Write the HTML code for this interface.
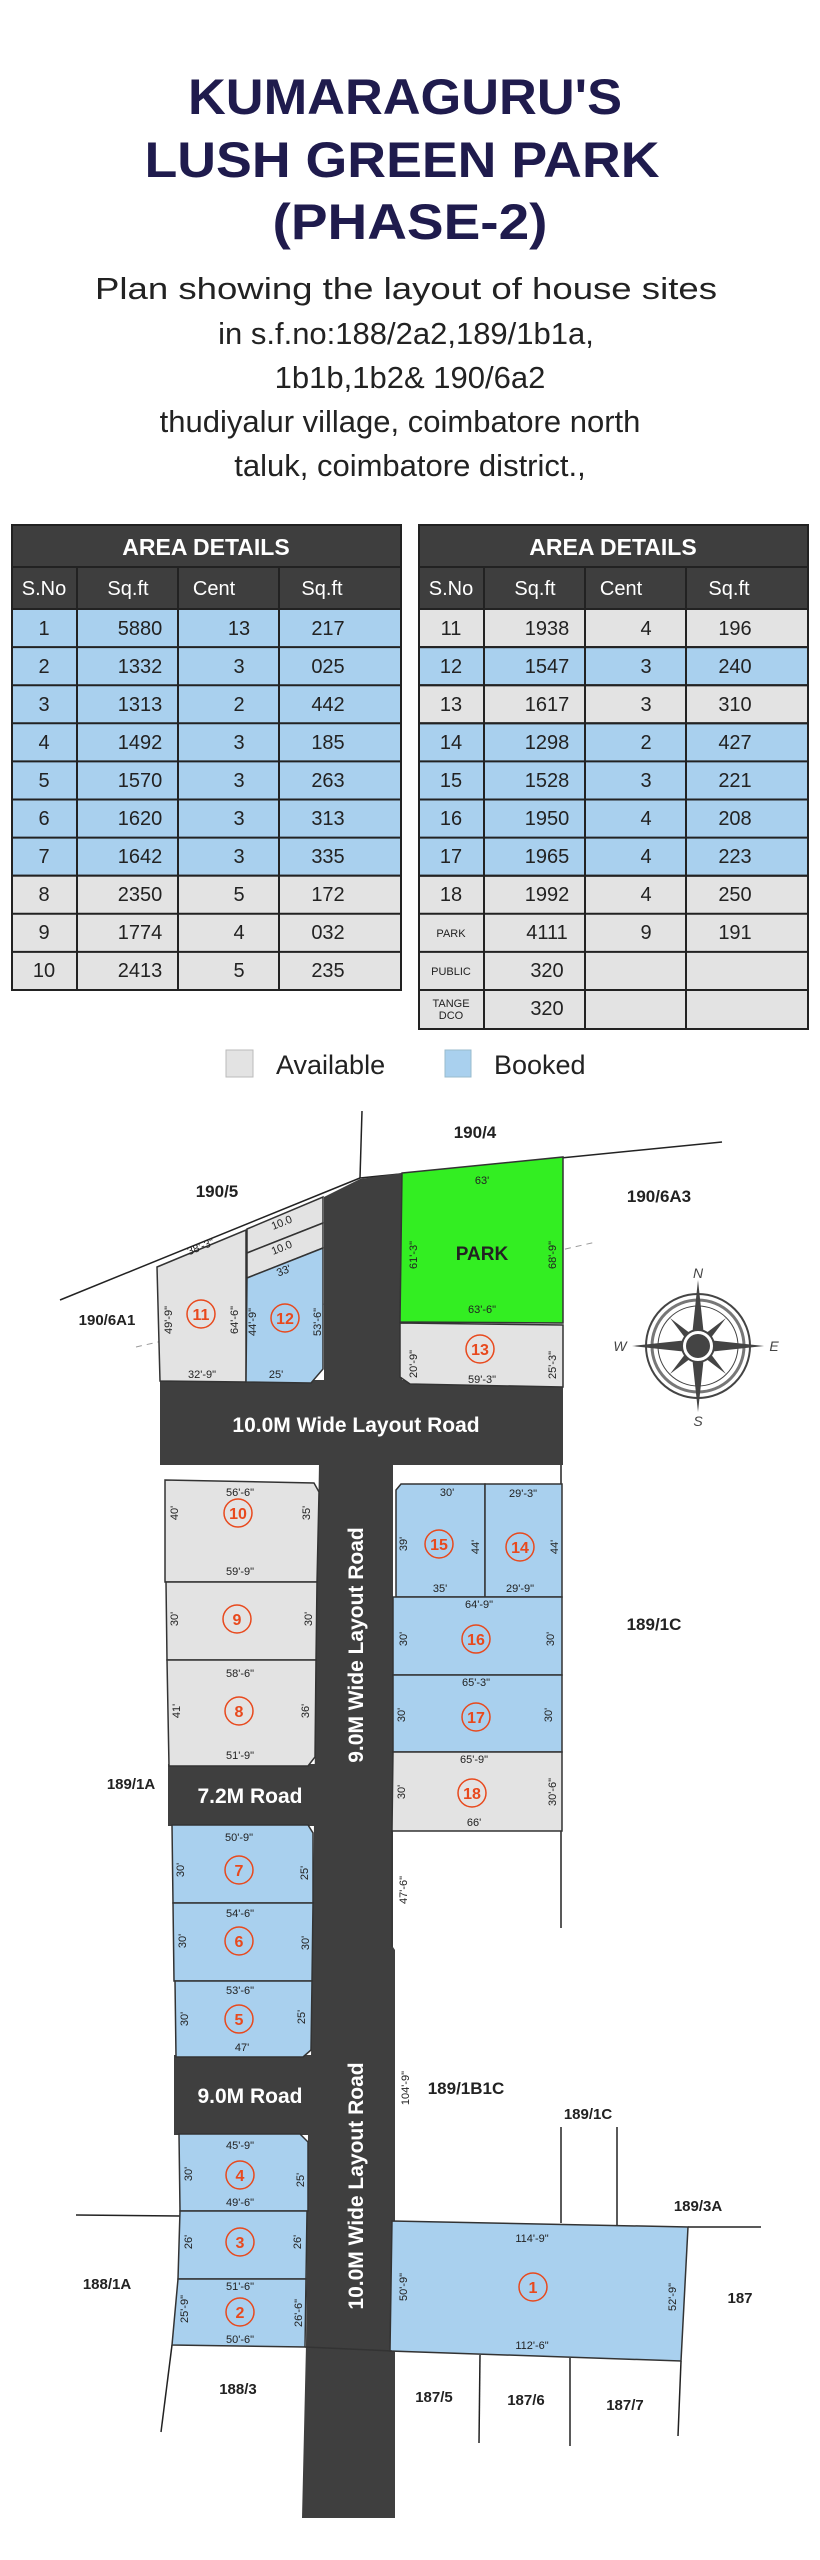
<!DOCTYPE html>
<html><head><meta charset="utf-8"><style>
html,body{margin:0;padding:0;background:#fff;}
svg{display:block;}
</style></head><body>
<svg width="820" height="2560" viewBox="0 0 820 2560" xmlns="http://www.w3.org/2000/svg" font-family="Liberation Sans, sans-serif">
<rect width="820" height="2560" fill="#fff"/>
<!-- Title -->
<g fill="#1f1b4d" font-weight="bold" font-size="50" text-anchor="middle">
<text x="405" y="114" textLength="434" lengthAdjust="spacingAndGlyphs">KUMARAGURU'S</text>
<text x="402" y="177" textLength="515" lengthAdjust="spacingAndGlyphs">LUSH GREEN PARK</text>
<text x="410" y="239" textLength="275" lengthAdjust="spacingAndGlyphs">(PHASE-2)</text>
</g>
<g fill="#222" font-size="31" text-anchor="middle">
<text x="406" y="299" textLength="622" lengthAdjust="spacingAndGlyphs">Plan showing the layout of house sites</text>
<text x="406" y="344">in s.f.no:188/2a2,189/1b1a,</text>
<text x="410" y="388">1b1b,1b2&amp; 190/6a2</text>
<text x="400" y="432">thudiyalur village, coimbatore north</text>
<text x="410" y="476">taluk, coimbatore district.,</text>
</g>

<!-- Table 1 -->
<g stroke="#222" stroke-width="2">
<rect x="12" y="525" width="389" height="42" fill="#3e3e3e"/>
<rect x="12" y="567" width="389" height="42" fill="#3e3e3e"/>
<line x1="77" y1="567" x2="77" y2="609"/><line x1="178" y1="567" x2="178" y2="609"/><line x1="279" y1="567" x2="279" y2="609"/>
<rect x="419" y="525" width="389" height="42" fill="#3e3e3e"/>
<rect x="419" y="567" width="389" height="42" fill="#3e3e3e"/>
<line x1="484" y1="567" x2="484" y2="609"/><line x1="585" y1="567" x2="585" y2="609"/><line x1="686" y1="567" x2="686" y2="609"/>
</g>
<g fill="#fff" text-anchor="middle">
<text x="206" y="555" font-size="23" font-weight="bold">AREA DETAILS</text>
<text x="613" y="555" font-size="23" font-weight="bold">AREA DETAILS</text>
<g font-size="20"><text x="44" y="595">S.No</text><text x="128" y="595">Sq.ft</text><text x="214" y="595">Cent</text><text x="322" y="595">Sq.ft</text>
<text x="451" y="595">S.No</text><text x="535" y="595">Sq.ft</text><text x="621" y="595">Cent</text><text x="729" y="595">Sq.ft</text></g>
</g>
<g stroke="#222" stroke-width="2">
<rect x="12" y="609" width="389" height="266.7" fill="#a9d0ee"/>
<rect x="12" y="875.7" width="389" height="114.3" fill="#e3e3e3"/>
<line x1="12" y1="647.1" x2="401" y2="647.1"/><line x1="12" y1="685.2" x2="401" y2="685.2"/><line x1="12" y1="723.3" x2="401" y2="723.3"/><line x1="12" y1="761.4" x2="401" y2="761.4"/><line x1="12" y1="799.5" x2="401" y2="799.5"/><line x1="12" y1="837.6" x2="401" y2="837.6"/><line x1="12" y1="913.8" x2="401" y2="913.8"/><line x1="12" y1="951.9" x2="401" y2="951.9"/>
<line x1="77" y1="609" x2="77" y2="990"/><line x1="178" y1="609" x2="178" y2="990"/><line x1="279" y1="609" x2="279" y2="990"/>

<rect x="419" y="609" width="389" height="420" fill="#e3e3e3"/>
<rect x="419" y="647.1" width="389" height="38.1" fill="#a9d0ee"/>
<rect x="419" y="723.3" width="389" height="152.4" fill="#a9d0ee"/>
<line x1="419" y1="647.1" x2="808" y2="647.1"/><line x1="419" y1="685.2" x2="808" y2="685.2"/><line x1="419" y1="723.3" x2="808" y2="723.3"/><line x1="419" y1="761.4" x2="808" y2="761.4"/><line x1="419" y1="799.5" x2="808" y2="799.5"/><line x1="419" y1="837.6" x2="808" y2="837.6"/><line x1="419" y1="875.7" x2="808" y2="875.7"/><line x1="419" y1="913.8" x2="808" y2="913.8"/><line x1="419" y1="951.9" x2="808" y2="951.9"/><line x1="419" y1="990" x2="808" y2="990"/>
<line x1="484" y1="609" x2="484" y2="1029"/><line x1="585" y1="609" x2="585" y2="1029"/><line x1="686" y1="609" x2="686" y2="1029"/>
</g>
<g fill="#222" font-size="20" text-anchor="middle">
<g><text x="44" y="635">1</text><text x="140" y="635">5880</text><text x="239" y="635">13</text><text x="328" y="635">217</text></g>
<g><text x="44" y="673">2</text><text x="140" y="673">1332</text><text x="239" y="673">3</text><text x="328" y="673">025</text></g>
<g><text x="44" y="711">3</text><text x="140" y="711">1313</text><text x="239" y="711">2</text><text x="328" y="711">442</text></g>
<g><text x="44" y="749">4</text><text x="140" y="749">1492</text><text x="239" y="749">3</text><text x="328" y="749">185</text></g>
<g><text x="44" y="787">5</text><text x="140" y="787">1570</text><text x="239" y="787">3</text><text x="328" y="787">263</text></g>
<g><text x="44" y="825">6</text><text x="140" y="825">1620</text><text x="239" y="825">3</text><text x="328" y="825">313</text></g>
<g><text x="44" y="863">7</text><text x="140" y="863">1642</text><text x="239" y="863">3</text><text x="328" y="863">335</text></g>
<g><text x="44" y="901">8</text><text x="140" y="901">2350</text><text x="239" y="901">5</text><text x="328" y="901">172</text></g>
<g><text x="44" y="939">9</text><text x="140" y="939">1774</text><text x="239" y="939">4</text><text x="328" y="939">032</text></g>
<g><text x="44" y="977">10</text><text x="140" y="977">2413</text><text x="239" y="977">5</text><text x="328" y="977">235</text></g>

<g><text x="451" y="635">11</text><text x="547" y="635">1938</text><text x="646" y="635">4</text><text x="735" y="635">196</text></g>
<g><text x="451" y="673">12</text><text x="547" y="673">1547</text><text x="646" y="673">3</text><text x="735" y="673">240</text></g>
<g><text x="451" y="711">13</text><text x="547" y="711">1617</text><text x="646" y="711">3</text><text x="735" y="711">310</text></g>
<g><text x="451" y="749">14</text><text x="547" y="749">1298</text><text x="646" y="749">2</text><text x="735" y="749">427</text></g>
<g><text x="451" y="787">15</text><text x="547" y="787">1528</text><text x="646" y="787">3</text><text x="735" y="787">221</text></g>
<g><text x="451" y="825">16</text><text x="547" y="825">1950</text><text x="646" y="825">4</text><text x="735" y="825">208</text></g>
<g><text x="451" y="863">17</text><text x="547" y="863">1965</text><text x="646" y="863">4</text><text x="735" y="863">223</text></g>
<g><text x="451" y="901">18</text><text x="547" y="901">1992</text><text x="646" y="901">4</text><text x="735" y="901">250</text></g>
<g><text x="451" y="937" font-size="11">PARK</text><text x="547" y="939">4111</text><text x="646" y="939">9</text><text x="735" y="939">191</text></g>
<g><text x="451" y="975" font-size="11">PUBLIC</text><text x="547" y="977">320</text></g>
<g><text x="451" y="1007" font-size="11">TANGE</text><text x="451" y="1019" font-size="11">DCO</text><text x="547" y="1015">320</text></g>
</g>

<!-- Legend -->
<rect x="226" y="1050" width="27" height="27" fill="#e3e3e3" stroke="#bbb"/>
<text x="276" y="1074" font-size="27" fill="#222">Available</text>
<rect x="445" y="1050" width="26" height="27" fill="#a9d0ee" stroke="#9bc"/>
<text x="494" y="1074" font-size="27" fill="#222">Booked</text>

<!-- Map boundary lines -->
<g stroke="#222" stroke-width="1.5" fill="none">
<line x1="362" y1="1111" x2="360" y2="1178"/>
<line x1="360" y1="1178" x2="722" y2="1142"/>
<line x1="360" y1="1178" x2="60" y2="1300"/>
<line x1="561" y1="1463" x2="561" y2="1928"/>
<line x1="561" y1="2127" x2="561" y2="2223"/>
<line x1="617" y1="2127" x2="617" y2="2225"/>
<line x1="76" y1="2215" x2="180" y2="2216"/>
<line x1="688" y1="2227" x2="761" y2="2227"/>
<line x1="172" y1="2345" x2="161" y2="2432"/>
<line x1="480" y1="2355" x2="479" y2="2443"/>
<line x1="570" y1="2358" x2="570" y2="2446"/>
<line x1="681" y1="2361" x2="678" y2="2436"/>
</g>
<line x1="136" y1="1347" x2="596" y2="1242" stroke="#999" stroke-width="1" stroke-dasharray="6,5"/>

<!-- Roads -->
<g fill="#3f3f3f">
<polygon points="324,1197 360,1179 402,1173 402,1390 324,1390"/>
<rect x="160" y="1380" width="403" height="85"/>
<polygon points="319,1463 393,1463 393,1947 395,1950 395,2518 302,2518 306,2345 308,2134 311,2057 313,1903 317,1582"/>
<rect x="168" y="1764" width="152" height="62"/>
<rect x="174" y="2055" width="138" height="80"/>
</g>

<!-- Plots -->
<g stroke="#333" stroke-width="1.5">
<polygon points="157,1267 246,1230 246,1382 160,1381" fill="#e3e3e3"/>
<polygon points="247,1229 323,1197 323,1223 247,1253" fill="#e3e3e3"/>
<polygon points="247,1253 323,1223 323,1248 247,1278" fill="#e3e3e3"/>
<polygon points="247,1278 323,1248 323,1369 311,1383 246,1382" fill="#a9d0ee"/>
<polygon points="402,1173 563,1157 563,1323 400,1322" fill="#33ee22"/>
<polygon points="400,1323 563,1325 563,1387 410,1384 400,1377" fill="#e3e3e3"/>

<polygon points="165,1480 314,1483 319,1492 317,1582 165,1582" fill="#e3e3e3"/>
<polygon points="166,1582 317,1582 316,1660 167,1660" fill="#e3e3e3"/>
<polygon points="167,1660 316,1660 315,1757 308,1766 169,1766" fill="#e3e3e3"/>
<polygon points="172,1825 308,1825 313,1833 313,1903 173,1903" fill="#a9d0ee"/>
<polygon points="173,1903 313,1903 312,1981 174,1981" fill="#a9d0ee"/>
<polygon points="175,1981 312,1981 311,2050 303,2057 176,2057" fill="#a9d0ee"/>
<polygon points="179,2134 300,2134 308,2142 308,2211 180,2211" fill="#a9d0ee"/>
<polygon points="180,2211 307,2211 306,2279 178,2279" fill="#a9d0ee"/>
<polygon points="178,2279 306,2279 305,2347 172,2345" fill="#a9d0ee"/>

<polygon points="401,1484 485,1484 485,1597 396,1597 396,1490" fill="#a9d0ee"/>
<polygon points="485,1484 562,1484 562,1597 485,1597" fill="#a9d0ee"/>
<polygon points="393,1597 562,1597 562,1675 393,1675" fill="#a9d0ee"/>
<polygon points="393,1675 562,1675 562,1752 393,1752" fill="#a9d0ee"/>
<polygon points="393,1752 562,1752 562,1831 392,1831" fill="#e3e3e3"/>
<polygon points="392,2221 688,2227 681,2361 390,2351" fill="#a9d0ee"/>
</g>
<line x1="305" y1="2347" x2="392" y2="2351" stroke="#333" stroke-width="1.5"/>
<line x1="392" y1="1831" x2="392" y2="1947" stroke="#333" stroke-width="1"/>

<!-- Road labels -->
<g fill="#fff" font-weight="bold" font-size="21" text-anchor="middle">
<text x="356" y="1432">10.0M Wide Layout Road</text>
<text x="250" y="1803">7.2M Road</text>
<text x="250" y="2103">9.0M Road</text>
<text transform="translate(363,1645) rotate(-90)">9.0M Wide Layout Road</text>
<text transform="translate(363,2186) rotate(-90)">10.0M Wide Layout Road</text>
</g>

<!-- Survey labels -->
<g fill="#222" font-weight="bold" font-size="17" text-anchor="middle">
<text x="475" y="1138">190/4</text>
<text x="217" y="1197">190/5</text>
<text x="659" y="1202">190/6A3</text>
<text x="107" y="1325" font-size="15">190/6A1</text>
<text x="654" y="1630">189/1C</text>
<text x="131" y="1789" font-size="15">189/1A</text>
<text x="466" y="2094">189/1B1C</text>
<text x="588" y="2119" font-size="15">189/1C</text>
<text x="698" y="2211" font-size="15">189/3A</text>
<text x="740" y="2303" font-size="15">187</text>
<text x="107" y="2289" font-size="15">188/1A</text>
<text x="238" y="2394" font-size="15">188/3</text>
<text x="434" y="2402" font-size="15">187/5</text>
<text x="526" y="2405" font-size="15">187/6</text>
<text x="625" y="2410" font-size="15">187/7</text>
<text x="482" y="1260" font-size="19">PARK</text>
</g>

<!-- Plot numbers -->
<g fill="none" stroke="#e8491d" stroke-width="1.5">
<circle cx="201" cy="1314" r="14"/><circle cx="285" cy="1318" r="14"/><circle cx="480" cy="1349" r="14"/>
<circle cx="238" cy="1513" r="14"/><circle cx="439" cy="1544" r="14"/><circle cx="520" cy="1547" r="14"/>
<circle cx="237" cy="1619" r="14"/><circle cx="476" cy="1639" r="14"/><circle cx="239" cy="1711" r="14"/>
<circle cx="476" cy="1717" r="14"/><circle cx="472" cy="1793" r="14"/><circle cx="239" cy="1870" r="14"/>
<circle cx="239" cy="1941" r="14"/><circle cx="239" cy="2019" r="14"/><circle cx="240" cy="2175" r="14"/>
<circle cx="240" cy="2242" r="14"/><circle cx="240" cy="2312" r="14"/><circle cx="533" cy="2287" r="14"/>
</g>
<g fill="#e8491d" font-weight="bold" font-size="16" text-anchor="middle">
<text x="201" y="1320">11</text><text x="285" y="1324">12</text><text x="480" y="1355">13</text>
<text x="238" y="1519">10</text><text x="439" y="1550">15</text><text x="520" y="1553">14</text>
<text x="237" y="1625">9</text><text x="476" y="1645">16</text><text x="239" y="1717">8</text>
<text x="476" y="1723">17</text><text x="472" y="1799">18</text><text x="239" y="1876">7</text>
<text x="239" y="1947">6</text><text x="239" y="2025">5</text><text x="240" y="2181">4</text>
<text x="240" y="2248">3</text><text x="240" y="2318">2</text><text x="533" y="2293">1</text>
</g>

<!-- Dimension labels -->
<g fill="#222" font-size="11" text-anchor="middle">
<text x="482" y="1184">63'</text><text x="482" y="1313">63'-6"</text>
<text transform="translate(417,1255) rotate(-90)">61'-3"</text><text transform="translate(556,1255) rotate(-90)">68'-9"</text>
<text transform="translate(417,1364) rotate(-90)">20'-9"</text><text transform="translate(556,1365) rotate(-90)">25'-3"</text>
<text x="482" y="1383">59'-3"</text>
<text transform="translate(202,1250) rotate(-22)">38'-3"</text>
<text transform="translate(285,1274) rotate(-22)">33'</text>
<text transform="translate(283,1226) rotate(-22)">10.0</text>
<text transform="translate(283,1251) rotate(-22)">10.0</text>
<text transform="translate(172,1320) rotate(-90)">49'-9"</text><text transform="translate(238,1320) rotate(-90)">64'-6"</text>
<text transform="translate(256,1322) rotate(-90)">44'-9"</text><text transform="translate(321,1322) rotate(-90)">53'-6"</text>
<text x="202" y="1378">32'-9"</text><text x="276" y="1378">25'</text>
<text x="240" y="1496">56'-6"</text><text x="240" y="1575">59'-9"</text>
<text transform="translate(178,1513) rotate(-90)">40'</text><text transform="translate(310,1513) rotate(-90)">35'</text>
<text x="447" y="1496">30'</text><text x="523" y="1497">29'-3"</text>
<text x="440" y="1592">35'</text><text x="520" y="1592">29'-9"</text>
<text transform="translate(407,1544) rotate(-90)">39'</text><text transform="translate(479,1547) rotate(-90)">44'</text><text transform="translate(558,1547) rotate(-90)">44'</text>
<text x="479" y="1608">64'-9"</text><text x="476" y="1686">65'-3"</text><text x="474" y="1763">65'-9"</text><text x="474" y="1826">66'</text>
<text transform="translate(407,1639) rotate(-90)">30'</text><text transform="translate(554,1639) rotate(-90)">30'</text>
<text transform="translate(405,1715) rotate(-90)">30'</text><text transform="translate(552,1715) rotate(-90)">30'</text>
<text transform="translate(405,1792) rotate(-90)">30'</text><text transform="translate(556,1792) rotate(-90)">30'-6"</text>
<text transform="translate(407,1890) rotate(-90)">47'-6"</text>
<text transform="translate(178,1619) rotate(-90)">30'</text><text transform="translate(312,1619) rotate(-90)">30'</text>
<text x="240" y="1677">58'-6"</text><text x="240" y="1759">51'-9"</text>
<text transform="translate(180,1711) rotate(-90)">41'</text><text transform="translate(309,1711) rotate(-90)">36'</text>
<text x="239" y="1841">50'-9"</text><text transform="translate(184,1870) rotate(-90)">30'</text><text transform="translate(308,1873) rotate(-90)">25'</text>
<text x="240" y="1917">54'-6"</text><text transform="translate(186,1941) rotate(-90)">30'</text><text transform="translate(309,1943) rotate(-90)">30'</text>
<text x="240" y="1994">53'-6"</text><text transform="translate(188,2019) rotate(-90)">30'</text><text transform="translate(305,2017) rotate(-90)">25'</text>
<text x="242" y="2051">47'</text>
<text x="240" y="2149">45'-9"</text><text x="240" y="2206">49'-6"</text>
<text transform="translate(192,2174) rotate(-90)">30'</text><text transform="translate(304,2180) rotate(-90)">25'</text>
<text transform="translate(192,2242) rotate(-90)">26'</text><text transform="translate(301,2242) rotate(-90)">26'</text>
<text x="240" y="2290">51'-6"</text><text x="240" y="2343">50'-6"</text>
<text transform="translate(188,2309) rotate(-90)">25'-9"</text><text transform="translate(302,2313) rotate(-90)">26'-6"</text>
<text transform="translate(409,2088) rotate(-90)">104'-9"</text>
<text x="532" y="2242">114'-9"</text><text x="532" y="2349">112'-6"</text>
<text transform="translate(407,2287) rotate(-90)">50'-9"</text><text transform="translate(676,2297) rotate(-90)">52'-9"</text>
</g>

<!-- Compass -->
<g transform="translate(698,1346)">
<circle r="52" fill="none" stroke="#444" stroke-width="2"/>
<circle r="46" fill="none" stroke="#777" stroke-width="3"/>
<circle r="40" fill="none" stroke="#444" stroke-width="1"/>
<g fill="#444">
<polygon points="0,-66 6,-10 0,0 -6,-10"/>
<polygon points="0,66 6,10 0,0 -6,10"/>
<polygon points="-66,0 -10,6 0,0 -10,-6"/>
<polygon points="66,0 10,6 0,0 10,-6"/>
<polygon points="-28,-28 -3,-9 0,0 -9,-3" /><polygon points="28,-28 3,-9 0,0 9,-3"/>
<polygon points="-28,28 -3,9 0,0 -9,3"/><polygon points="28,28 3,9 0,0 9,3"/>
</g>
<circle r="16" fill="#fff" stroke="#444" stroke-width="2"/>
<circle r="12" fill="#444"/>
<g fill="#444" font-size="14" font-style="italic" text-anchor="middle">
<text x="0" y="-68">N</text><text x="0" y="80">S</text><text x="-78" y="5">W</text><text x="76" y="5">E</text>
</g>
</g>
</svg>
</body></html>
